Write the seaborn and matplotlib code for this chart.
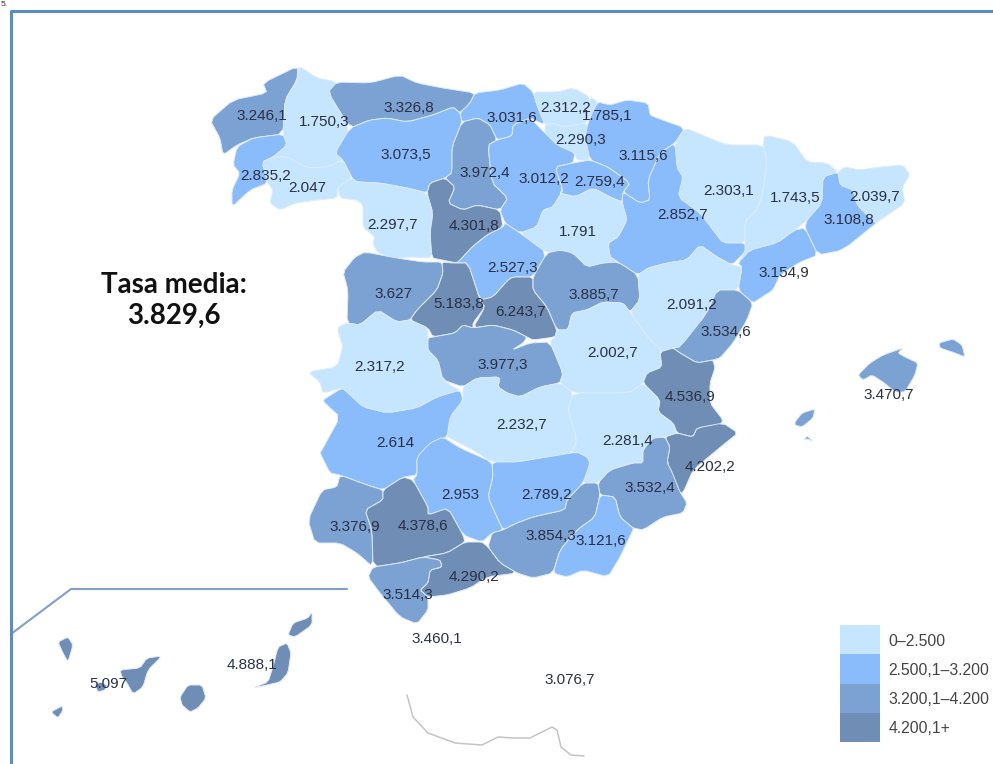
# plot.py - tasa media por provincias

import numpy as np
import pandas as pd
import seaborn as sns
import matplotlib.pyplot as plt
from matplotlib.colors import ListedColormap
from matplotlib.patches import Polygon

FRAME_COLOR = "#5A8CC8"
LABEL_COLOR = "#2B3045"

BIN_EDGES = [0, 2500, 3200, 4200, 99999]
BIN_LABELS = ["0–2.500", "2.500,1–3.200", "3.200,1–4.200", "4.200,1+"]
BIN_COLORS = ["#C6E6FF", "#8ABBFA", "#7CA1D3", "#6F8DB5"]

PROVINCES = [
    "A Coruña", "Lugo", "Asturias", "Cantabria", "Vizcaya", "Guipúzcoa", "Álava", "Navarra",
    "León", "Pontevedra", "Ourense", "Palencia", "Burgos", "La Rioja", "Huesca", "Lleida",
    "Girona", "Barcelona", "Zaragoza", "Zamora", "Valladolid", "Soria", "Segovia", "Tarragona",
    "Salamanca", "Ávila", "Madrid", "Guadalajara", "Teruel", "Castellón", "Cáceres", "Toledo",
    "Cuenca", "Valencia", "Baleares", "Ciudad Real", "Albacete", "Alicante", "Badajoz", "Córdoba",
    "Jaén", "Murcia", "Huelva", "Sevilla", "Granada", "Almería", "Málaga", "Cádiz",
    "Ceuta", "Melilla", "Tenerife", "Las Palmas",
]
VALUES = [
    3246.1, 1750.3, 3326.8, 3031.6, 2312.2, 1785.1, 2290.3, 3115.6,
    3073.5, 2835.2, 2047, 3972.4, 3012.2, 2759.4, 2303.1, 1743.5,
    2039.7, 3108.8, 2852.7, 2297.7, 4301.8, 1791, 2527.3, 3154.9,
    3627, 5183.8, 6243.7, 3885.7, 2091.2, 3534.6, 2317.2, 3977.3,
    2002.7, 4536.9, 3470.7, 2232.7, 2281.4, 4202.2, 2614, 2953,
    2789.2, 3532.4, 3376.9, 4378.6, 3854.3, 3121.6, 4290.2, 3514.3,
    3460.1, 3076.7, 5097, 4888.1,
]
MEAN_RATE = 3829.6
LABEL_X = [
    262, 324, 409, 512, 566, 607, 581, 643,
    406, 266, 307, 485, 544, 600, 729, 795,
    875, 849, 683, 393, 474, 578, 513, 784,
    393, 459, 521, 594, 692, 726, 380, 503,
    613, 690, 889, 522, 628, 710, 395, 460,
    547, 650, 355, 423, 551, 601, 474, 408,
    437, 570, 108, 252,
]
LABEL_Y = [
    116, 122, 108, 118, 108, 116, 140, 156,
    155, 176, 188, 173, 179, 182, 191, 198,
    197, 220, 215, 225, 226, 232, 268, 273,
    294, 304, 312, 295, 305, 332, 367, 365,
    353, 397, 395, 425, 441, 467, 443, 495,
    495, 488, 527, 526, 536, 541, 577, 595,
    639, 680, 684, 665,
]

# outlines, in picture pixels
SHAPES = {
    "A Coruña": [[(298,66),(263,83),(267,93),(233,100),(210,120),(220,138),(223,155),(237,145),(253,138),(283,134),(285,100),(297,80)]],
    "Pontevedra": [[(283,134),(287,145),(273,157),(262,162),(268,183),(250,190),(232,207),(232,190),(240,173),(233,165),(237,147),(253,138)]],
    "Lugo": [[(299,66),(317,78),(337,82),(328,92),(350,128),(335,153),(343,160),(327,167),(307,168),(287,157),(273,157),(287,145),(283,134),(285,100),(297,80)]],
    "Ourense": [[(262,162),(273,157),(287,157),(307,168),(327,167),(343,160),(352,178),(338,187),(337,198),(317,200),(295,203),(280,210),(270,203),(273,190),(268,183)]],
    "Asturias": [[(337,82),(370,83),(400,75),(417,83),(443,88),(475,93),(470,103),(460,113),(453,107),(433,115),(407,122),(387,118),(370,120),(350,128),(328,92)]],
    "León": [[(350,128),(370,120),(387,118),(407,122),(433,115),(453,107),(460,113),(462,122),(452,147),(452,173),(445,178),(430,183),(427,193),(407,188),(380,183),(357,182),(352,178),(343,160),(335,153)]],
    "Zamora": [[(338,187),(352,178),(357,182),(380,183),(407,188),(427,193),(433,213),(430,233),(432,258),(413,257),(393,258),(377,252),(373,243),(375,237),(363,227),(363,205),(357,200),(340,198)]],
    "Palencia": [[(462,122),(478,118),(490,125),(497,140),(488,145),(492,183),(508,198),(500,210),(477,205),(463,210),(448,203),(455,187),(445,178),(452,173),(452,147)]],
    "Valladolid": [[(445,178),(455,187),(448,203),(463,210),(477,205),(500,210),(503,227),(487,235),(472,247),(463,257),(457,263),(442,260),(432,258),(430,233),(433,213),(427,193),(430,183)]],
    "Cantabria": [[(475,93),(500,90),(523,83),(533,92),(537,105),(545,125),(530,118),(513,125),(512,136),(497,140),(490,125),(478,118),(462,122),(460,113),(470,103)]],
    "Burgos": [[(497,140),(512,136),(513,125),(530,118),(545,133),(557,145),(575,153),(573,163),(555,167),(563,190),(553,207),(543,210),(537,227),(520,233),(505,223),(500,210),(508,198),(492,183),(488,145)]],
    "Vizcaya": [[(537,105),(533,92),(558,92),(573,88),(590,97),(588,123),(563,127),(553,123),(545,125)]],
    "Guipúzcoa": [[(590,97),(598,102),(592,113),(588,123)]],
    "Álava": [[(545,125),(553,123),(563,127),(588,123),(585,137),(590,160),(577,160),(575,153),(557,145),(545,133)]],
    "Navarra": [[(598,102),(610,105),(627,100),(648,103),(650,115),(657,118),(685,128),(675,143),(660,153),(648,180),(650,200),(640,203),(623,192),(630,183),(608,167),(590,160),(585,137),(588,123),(592,113)]],
    "La Rioja": [[(573,163),(590,160),(608,167),(630,183),(623,192),(622,202),(610,197),(593,188),(575,197),(560,193),(563,190),(555,167)]],
    "Zaragoza": [[(675,143),(677,168),(683,177),(678,197),(700,213),(713,230),(723,243),(745,243),(745,252),(732,265),(717,257),(700,245),(687,260),(667,263),(648,268),(638,275),(618,262),(610,257),(608,243),(618,237),(627,220),(622,202),(623,192),(640,203),(650,200),(648,180),(660,153)]],
    "Huesca": [[(685,128),(707,137),(727,145),(763,145),(767,160),(763,193),(757,210),(745,222),(745,243),(723,243),(713,230),(700,213),(678,197),(683,177),(677,168),(675,143)]],
    "Lleida": [[(765,135),(793,142),(807,162),(827,163),(838,172),(823,177),(822,203),(807,220),(795,230),(777,243),(750,250),(738,263),(745,252),(745,222),(757,210),(763,193),(767,160),(763,145)]],
    "Girona": [[(838,172),(845,167),(860,170),(880,167),(903,165),(910,175),(902,187),(905,203),(880,220),(875,223),(857,205),(853,190),(840,185)]],
    "Barcelona": [[(823,177),(838,172),(840,185),(853,190),(857,205),(875,223),(880,220),(843,250),(818,255),(805,228),(807,220),(822,203)]],
    "Tarragona": [[(805,228),(818,255),(800,262),(780,275),(773,290),(762,297),(753,303),(738,290),(742,267),(738,263),(750,250),(777,243),(795,230)]],
    "Castellón": [[(753,303),(747,320),(733,343),(720,358),(713,360),(697,363),(680,353),(673,348),(680,347),(707,313),(717,290),(738,290)]],
    "Teruel": [[(638,275),(648,268),(667,263),(687,260),(700,245),(717,257),(732,265),(742,267),(738,290),(717,290),(707,313),(680,347),(673,348),(660,352),(660,348),(650,340),(630,312),(640,300)]],
    "Guadalajara": [[(547,253),(560,250),(573,253),(587,267),(603,263),(618,262),(638,275),(640,300),(630,312),(623,303),(603,302),(587,310),(572,313),(568,330),(557,330),(547,307),(533,290),(533,277)]],
    "Soria": [[(543,210),(537,227),(520,233),(547,253),(560,250),(573,253),(587,267),(603,263),(618,262),(610,257),(608,243),(618,237),(627,220),(622,202),(610,197),(593,188),(575,197),(560,193),(563,190),(553,207)]],
    "Segovia": [[(520,233),(547,253),(533,277),(513,277),(508,280),(493,297),(480,300),(468,263),(457,263),(463,257),(472,247),(487,235),(503,227),(505,223)]],
    "Madrid": [[(513,277),(533,277),(533,290),(547,307),(557,330),(555,337),(533,340),(527,337),(513,330),(493,325),(473,328),(485,307),(480,300),(493,297),(508,280)]],
    "Ávila": [[(442,262),(453,263),(468,263),(480,300),(485,307),(473,323),(473,328),(463,325),(455,333),(433,337),(428,328),(410,320),(417,310),(437,290),(443,273)]],
    "Salamanca": [[(365,252),(397,258),(423,262),(442,262),(443,273),(437,290),(417,310),(410,320),(397,322),(378,310),(360,325),(347,323),(348,290),(343,272),(355,257)]],
    "Toledo": [[(428,338),(433,337),(455,333),(463,325),(473,328),(493,325),(513,330),(527,337),(523,343),(512,350),(530,343),(550,342),(563,373),(560,383),(540,387),(520,397),(507,393),(498,387),(500,377),(477,378),(463,387),(443,380),(438,360),(428,350)]],
    "Cáceres": [[(360,325),(378,310),(397,322),(410,320),(428,328),(428,350),(438,360),(443,380),(453,387),(460,390),(437,397),(417,408),(387,413),(363,407),(348,393),(342,388),(323,393),(320,382),(308,372),(337,367),(343,347),(337,328),(347,323)]],
    "Badajoz": [[(323,400),(342,388),(348,393),(363,407),(387,413),(417,408),(437,397),(460,390),(463,400),(450,417),(447,437),(437,440),(417,457),(417,475),(403,477),(383,490),(367,485),(340,475),(330,473),(320,453),(322,450),(340,417),(325,403)]],
    "Ciudad Real": [[(463,387),(477,378),(500,377),(498,387),(507,393),(520,397),(540,387),(560,383),(573,393),(568,410),(577,440),(572,453),(547,457),(517,462),(492,462),(473,450),(450,438),(447,437),(450,417),(463,400)]],
    "Cuenca": [[(557,330),(568,330),(572,313),(587,310),(603,302),(623,303),(630,312),(650,340),(660,348),(660,352),(662,367),(647,373),(643,383),(630,393),(573,393),(560,383),(563,373),(550,342),(555,337)]],
    "Valencia": [[(660,352),(673,348),(680,353),(697,363),(713,360),(715,368),(710,383),(710,403),(723,420),(720,425),(697,428),(693,437),(677,433),(673,423),(658,412),(660,400),(643,383),(647,373),(662,367)]],
    "Albacete": [[(573,393),(630,393),(643,383),(660,400),(658,412),(673,423),(677,433),(665,437),(653,438),(643,450),(643,463),(633,463),(610,470),(598,483),(583,483),(590,463),(587,457),(577,452),(572,453),(577,440),(568,410)]],
    "Alicante": [[(677,433),(693,437),(697,428),(723,423),(738,433),(723,445),(693,470),(683,493),(677,492),(667,462),(670,447),(665,437)]],
    "Murcia": [[(665,437),(670,447),(667,462),(672,472),(680,492),(687,503),(683,513),(663,517),(643,530),(633,528),(620,517),(615,497),(600,495),(598,483),(610,470),(633,463),(643,463),(643,450),(653,438)]],
    "Jaén": [[(492,462),(517,462),(547,457),(577,452),(587,457),(590,463),(583,483),(567,500),(565,510),(533,517),(517,523),(503,530),(497,517),(488,497),(493,477)]],
    "Granada": [[(583,483),(598,483),(600,495),(595,517),(577,530),(560,550),(553,573),(533,578),(517,573),(500,563),(488,547),(492,533),(503,530),(517,523),(533,517),(565,510),(567,500)]],
    "Almería": [[(600,495),(615,497),(620,517),(633,528),(633,530),(620,557),(608,577),(583,570),(567,577),(553,573),(560,550),(577,530),(595,517)]],
    "Córdoba": [[(443,437),(460,448),(492,462),(493,477),(488,497),(497,517),(503,530),(492,533),(482,542),(463,535),(448,508),(428,515),(428,507),(413,480),(417,475),(417,457),(430,443)]],
    "Sevilla": [[(403,477),(413,480),(428,507),(428,515),(448,508),(463,535),(465,542),(447,553),(423,557),(400,563),(373,567),(372,530),(365,510),(383,500),(383,490)]],
    "Huelva": [[(340,475),(367,485),(383,490),(383,500),(365,510),(372,530),(373,567),(357,553),(340,543),(315,543),(308,520),(322,490),(337,487)]],
    "Cádiz": [[(373,567),(400,563),(423,557),(440,560),(442,567),(430,570),(428,583),(420,590),(428,597),(428,610),(417,624),(400,617),(380,593),(368,577)]],
    "Málaga": [[(442,567),(430,570),(428,583),(420,590),(428,597),(447,595),(470,588),(487,577),(517,573),(500,563),(488,547),(482,542),(465,542),(447,553),(423,557),(440,560)]],
    "Baleares": [
        [(858,375),(870,363),(883,355),(903,348),(898,353),(905,357),(918,363),(915,375),(905,392),(895,392),(883,382),(872,375),(863,380)],
        [(939,343),(953,339),(962,345),(965,357),(955,353),(940,348)],
        [(795,422),(802,413),(815,409),(813,418),(802,427),(795,425)],
        [(804,440),(807,436),(813,441),(807,439)],
    ],
    "Tenerife": [
        [(58,642),(68,637),(73,645),(68,662),(63,653)],
        [(120,670),(140,668),(147,658),(162,656),(148,670),(143,687),(133,694),(127,683),(122,677)],
        [(95,685),(100,682),(107,685),(105,690),(98,692)],
        [(51,712),(62,706),(63,710),(58,718)],
    ],
    "Las Palmas": [
        [(180,697),(188,685),(202,685),(206,698),(198,708),(190,712),(182,705)],
        [(278,647),(287,643),(291,653),(288,673),(280,682),(267,685),(253,688),(268,682),(273,667)],
        [(293,623),(308,618),(312,612),(312,625),(295,637),(288,635)],
    ],
}

COAST_X = [407, 413, 428, 455, 482, 498, 513, 530, 552, 557, 561, 571, 584]
COAST_Y = [695, 717, 733, 743, 745, 737, 738, 738, 727, 730, 747, 755, 756]
INSET_X = [11, 71, 347]
INSET_Y = [634, 589, 589]


def format_value(value):
    # spanish number format, whole numbers without decimals
    text = f"{value:,.1f}".replace(",", "#").replace(".", ",").replace("#", ".")
    return text[:-2] if text.endswith(",0") else text


def round_corners(outline, cut=0.15):
    # soften the hand-read outlines so they look less faceted
    pts = np.array(outline, dtype=float)
    nxt = np.roll(pts, -1, axis=0)
    return np.column_stack([(1 - cut) * pts + cut * nxt, cut * pts + (1 - cut) * nxt]).reshape(-1, 2)


sns.set_style("white")
plt.rcParams["font.family"] = ["Liberation Sans", "DejaVu Sans"]

df = pd.DataFrame({"province": PROVINCES, "value": VALUES, "x": LABEL_X, "y": LABEL_Y})
df["bin"] = pd.cut(df["value"], BIN_EDGES, labels=False)
palette = sns.color_palette(BIN_COLORS)

fig = plt.figure(figsize=(9.93, 7.64), dpi=100)
ax = fig.add_axes([0, 0, 1, 1])
ax.axis("off")

# provinces, coloured by their class
for row in df.itertuples():
    for outline in SHAPES.get(row.province, []):
        ax.add_patch(Polygon(round_corners(outline), closed=True, facecolor=palette[row.bin],
                             edgecolor="#DCEBFB", linewidth=0.7, joinstyle="round"))

sns.lineplot(x=COAST_X, y=COAST_Y, color="#C4C4C4", linewidth=1.1, sort=False, estimator=None, ax=ax)
sns.lineplot(x=INSET_X, y=INSET_Y, color="#7FA0CC", linewidth=1.5, sort=False, estimator=None, ax=ax)

# outer frame, only top and left are in the picture
sns.lineplot(x=[10.5, 10.5, 993], y=[764, 11, 11], color=FRAME_COLOR, linewidth=2.2,
             sort=False, estimator=None, ax=ax)

for row in df.itertuples():
    ax.text(row.x, row.y, format_value(row.value), ha="center", va="center",
            fontsize=11, color=LABEL_COLOR)

ax.text(174, 285, "Tasa media:", ha="center", va="center", fontsize=20,
        fontweight="bold", family="Lato", color="#111111")
ax.text(174, 316, format_value(MEAN_RATE), ha="center", va="center", fontsize=20,
        fontweight="bold", family="Lato", color="#111111")
ax.text(1, 5, "5.", ha="left", va="center", fontsize=6, color="#333333")

ax.set_xlim(0, 993)
ax.set_ylim(764, 0)

# legend as a one-column heatmap
ax_leg = fig.add_axes([840 / 993, 1 - 742 / 764, 40 / 993, 117 / 764])
sns.heatmap(np.arange(4).reshape(4, 1), cmap=ListedColormap(BIN_COLORS), cbar=False,
            xticklabels=False, yticklabels=BIN_LABELS, ax=ax_leg)
ax_leg.yaxis.tick_right()
ax_leg.tick_params(axis="y", length=0, pad=6, labelsize=11.3, labelcolor="#444444", rotation=0)

fig.savefig("out.png", dpi=100)
